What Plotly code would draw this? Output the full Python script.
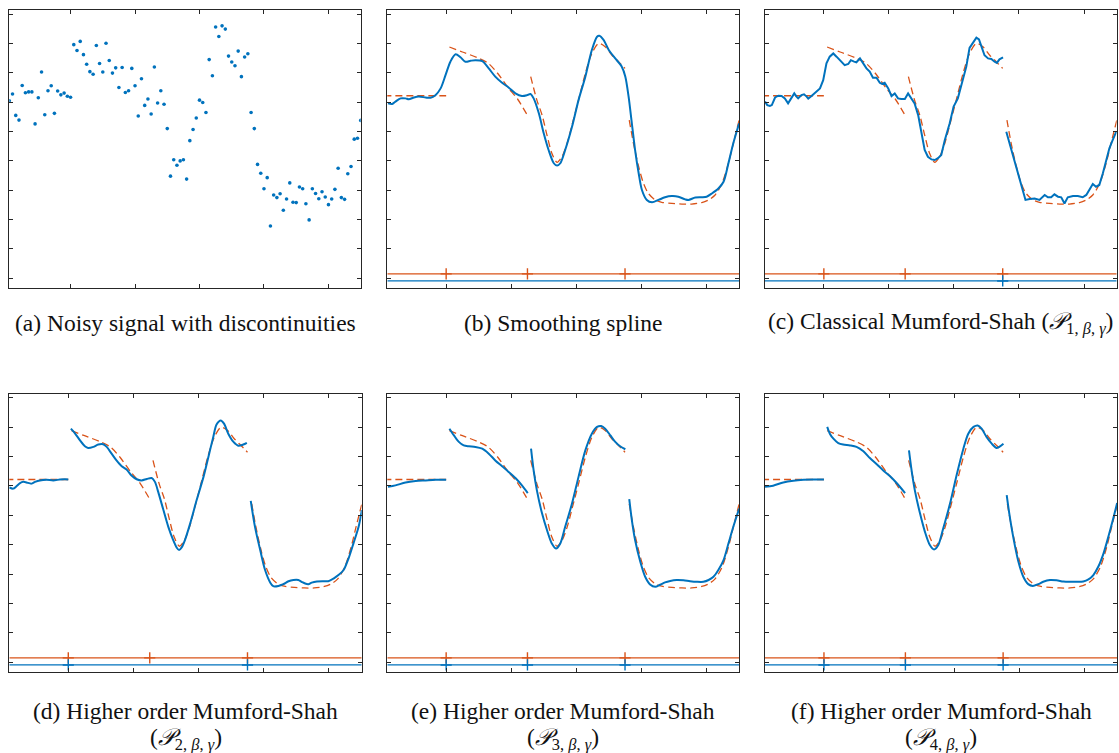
import plotly.graph_objects as go

W, H = 1119, 753
BLUE = "#0072BD"
ORANGE = "#D95319"
AXIS = "#262626"

# ---- noisy observations (sample index 1..110) ----
noisy_x = list(range(1, 111))
noisy_y = [6.05, 6.28, 5.55, 5.39, 6.57, 6.32, 6.35, 6.35, 5.26, 6.15,
           7.03, 5.57, 6.39, 6.56, 5.62, 6.38, 6.25, 6.31, 6.20, 6.17,
           7.96, 7.76, 8.07, 7.62, 7.29, 7.04, 6.95, 7.93, 7.32, 7.03,
           8.01, 7.42, 6.99, 7.17, 6.50, 7.18, 6.33, 6.39, 7.15, 6.56,
           5.53, 6.80, 5.89, 6.11, 5.60, 7.20, 5.97, 6.39, 5.93, 5.10,
           3.48, 4.04, 3.85, 4.00, 4.04, 3.38, 4.69, 5.07, 5.46, 6.07,
           5.99, 5.65, 7.45, 6.90, 8.56, 8.24, 8.60, 8.49, 7.57, 7.37,
           7.24, 7.74, 6.87, 7.54, 7.65, 5.65, 5.10, 3.88, 3.58, 3.05,
           3.43, 1.78, 2.84, 2.75, 2.88, 2.32, 2.70, 3.25, 2.59, 2.58,
           3.11, 3.05, 2.54, 1.99, 3.05, 2.89, 2.71, 2.95, 2.77, 2.51,
           2.70, 3.03, 3.75, 2.75, 2.69, 3.56, 3.81, 4.74, 4.77, 5.38]

# ---- ground-truth piecewise signal ----
truth_x = [[1, 20],
           [21, 25, 30, 33, 36, 39, 42, 45],
           [46, 47.9, 49.5, 51, 52.5, 54.1, 55.6, 57.2, 58.7, 60.7, 62.8, 64.8,
            66.9, 68.9, 71, 73, 75],
           [76.3, 77.6, 79.2, 80.7, 82.2, 84.3, 86.3, 89.4, 92.5, 95.5, 98.6,
            100.7, 102.7, 104.8, 106.8, 108.3, 110.1]]
truth_y = [[6.22, 6.22],
           [7.88, 7.71, 7.50, 7.32, 6.96, 6.50, 6.10, 5.55],
           [6.87, 6.07, 5.56, 4.88, 4.26, 3.95, 4.14, 4.60, 5.22, 6.07, 6.98, 7.66,
            8.00, 7.89, 7.60, 7.38, 7.15],
           [5.39, 4.60, 3.80, 3.23, 2.89, 2.67, 2.59, 2.55, 2.53, 2.53, 2.58,
            2.67, 2.84, 3.23, 3.92, 4.60, 5.39]]
true_jumps = [20, 45, 75]

# ---- (b) smoothing spline ----
spline_x = [[2.1, 3.4, 4.4, 6.0, 7.5, 8.5, 10.1, 11.6, 13.7, 15.2, 16.7, 18.3, 19.8,
             21.3, 22.9, 24.4, 25.9, 27.5, 29.0, 31.1, 33.1, 35.1, 37.2, 39.2, 41.3,
             43.3, 44.9, 45.9, 46.9, 48.5, 50.0, 51.5, 53.1, 54.1, 55.1, 56.6, 58.7,
             60.7, 62.8, 64.8, 66.4, 67.1, 68.4, 70.0, 72.0, 74.0, 75.1, 76.1, 77.1,
             78.1, 79.2, 80.2, 81.7, 83.3, 85.3, 87.3, 89.4, 91.4, 93.5, 94.5, 96.6,
             98.6, 100.1, 101.7, 103.7, 105.3, 106.8, 108.3, 110.1]]
spline_y = [[5.96, 5.94, 6.02, 6.13, 6.13, 6.10, 6.16, 6.19, 6.16, 6.15, 6.24, 6.47, 6.92,
             7.38, 7.63, 7.53, 7.38, 7.41, 7.43, 7.40, 7.15, 6.87, 6.66, 6.50, 6.30,
             6.21, 6.24, 6.28, 6.13, 5.62, 4.94, 4.37, 3.92, 3.84, 3.92, 4.37, 5.16,
             6.07, 6.87, 7.78, 8.23, 8.26, 8.12, 7.78, 7.49, 7.21, 6.87, 6.19, 5.28,
             4.37, 3.58, 3.01, 2.67, 2.59, 2.67, 2.76, 2.80, 2.78, 2.69, 2.67, 2.75,
             2.76, 2.78, 2.89, 3.06, 3.29, 3.92, 4.60, 5.28]]
spline_jumps = []

# ---- (c) classical Mumford-Shah ----
ms1_x = [[1.9, 2.6, 3.4, 4.0, 5.0, 6.0, 7.0, 8.0, 9.0, 10.1, 10.9, 11.6, 12.1, 13.1,
          13.9, 14.7, 15.2, 16.2, 17.2, 18.8, 19.8, 20.8, 21.8, 22.9, 23.9, 25.4,
          26.4, 27.5, 28.3, 29.3, 30.0, 31.1, 32.1, 33.1, 34.1, 35.1, 36.2, 37.2,
          37.9, 38.7, 39.8, 40.8, 41.8, 42.8, 43.8, 44.9, 45.9, 46.9, 47.9, 49.0,
          50.0, 51.0, 52.0, 53.1, 54.1, 55.1, 56.1, 57.2, 58.7, 59.9, 61.2, 62.8,
          63.8, 64.8, 65.9, 66.9, 67.7, 68.4, 69.4, 70.5, 71.5, 72.5, 73.2, 74.0, 75.1],
         [76.1, 77.1, 78.1, 79.2, 80.2, 81.2, 82.0, 83.3, 84.8, 86.3, 87.9, 88.9,
          89.9, 90.9, 92.0, 93.0, 94.0, 95.0, 96.6, 98.1, 99.6, 100.7, 101.7, 102.7,
          103.7, 104.7, 105.8, 106.8, 107.8, 108.8, 109.9]]
ms1_y = [[6.02, 5.90, 5.87, 5.90, 6.16, 6.22, 6.21, 6.13, 5.96, 6.16, 6.30, 6.19, 6.13, 6.24,
          6.27, 6.19, 6.12, 6.21, 6.30, 6.47, 6.75, 7.32, 7.55, 7.66, 7.55, 7.38,
          7.26, 7.30, 7.43, 7.38, 7.36, 7.49, 7.32, 7.15, 7.04, 6.83, 6.83, 6.66,
          6.62, 6.66, 6.47, 6.21, 6.30, 6.13, 6.11, 6.11, 6.30, 6.13, 5.96, 5.56,
          4.94, 4.37, 4.14, 4.05, 4.03, 4.09, 4.20, 4.71, 5.28, 5.85, 6.13, 6.75,
          7.21, 7.85, 8.06, 8.20, 8.14, 7.89, 7.60, 7.49, 7.47, 7.38, 7.34, 7.46, 7.53],
         [4.99, 4.60, 4.14, 3.75, 3.35, 3.01, 2.67, 2.70, 2.72, 2.67, 2.84, 2.76,
          2.76, 2.86, 2.78, 2.76, 2.55, 2.76, 2.80, 2.80, 2.76, 2.84, 3.01, 3.21,
          3.12, 3.18, 3.58, 4.03, 4.43, 4.71, 4.99]]
ms1_jumps = [75]

# ---- (d) higher order, P2 ----
ms2_x = [[1.9, 3.1, 4.1, 5.2, 6.2, 7.2, 8.7, 9.8, 11.3, 13.3, 15.4, 17.4, 19.0, 20.0],
         [20.8, 22.0, 23.6, 25.1, 26.1, 27.7, 29.2, 30.7, 31.8, 33.3, 34.8, 36.4,
          37.9, 39.4, 41.0, 42.5, 44.1, 45.6, 46.6, 47.6, 49.2, 50.7, 52.2, 53.3,
          54.0, 54.8, 55.8, 57.4, 59.4, 61.5, 63.0, 64.5, 65.5, 66.8, 67.8, 69.1,
          70.7, 72.2, 73.7, 74.8],
         [76.0, 77.3, 78.9, 80.4, 82.0, 82.9, 84.5, 86.0, 87.6, 89.1, 90.6, 91.6,
          92.7, 93.7, 94.7, 96.3, 98.3, 99.8, 101.4, 102.9, 104.5, 106.0, 107.5,
          109.1, 110.1]]
ms2_y = [[5.95, 5.91, 5.99, 6.10, 6.14, 6.12, 6.08, 6.14, 6.19, 6.21, 6.19, 6.22, 6.23, 6.22],
         [7.95, 7.80, 7.55, 7.35, 7.29, 7.33, 7.41, 7.42, 7.33, 7.10, 6.87, 6.67,
          6.56, 6.36, 6.23, 6.19, 6.24, 6.27, 6.14, 5.80, 5.18, 4.61, 4.16, 3.90,
          3.82, 3.91, 4.16, 4.72, 5.52, 6.31, 6.99, 7.67, 8.09, 8.23, 8.12, 7.78,
          7.50, 7.37, 7.41, 7.47],
         [5.49, 4.61, 3.82, 3.14, 2.71, 2.59, 2.60, 2.66, 2.76, 2.80, 2.80, 2.74,
          2.68, 2.66, 2.71, 2.75, 2.76, 2.76, 2.85, 2.97, 3.14, 3.53, 4.04,
          4.61, 5.18]]
ms2_jumps = [20, 75]

# ---- (e) higher order, P3 ----
ms3_x = [[2.1, 4.4, 7.5, 10.6, 13.7, 16.7, 20.0],
         [21.0, 22.4, 23.9, 25.4, 27.0, 29.0, 31.1, 33.1, 35.1, 37.2, 39.2, 41.3, 43.3, 45.1],
         [46.1, 46.9, 47.9, 49.5, 51.0, 52.5, 53.8, 55.1, 56.6, 58.7, 60.7, 62.8,
          64.8, 66.4, 67.7, 68.9, 70.5, 72.0, 73.5, 75.1],
         [76.3, 77.1, 78.1, 79.7, 81.2, 82.7, 84.3, 85.8, 87.3, 88.9, 90.9, 93.0,
          95.0, 97.1, 99.1, 100.7, 102.2, 103.7, 105.3, 106.8, 108.3, 110.1]]
ms3_y = [[5.97, 6.02, 6.12, 6.17, 6.19, 6.21, 6.21],
         [7.95, 7.72, 7.50, 7.38, 7.35, 7.33, 7.27, 7.10, 6.87, 6.67, 6.48, 6.27, 6.02, 5.76],
         [7.27, 6.53, 5.85, 5.06, 4.50, 4.04, 3.87, 4.04, 4.61, 5.40, 6.31, 7.21,
          7.78, 8.01, 8.04, 7.95, 7.72, 7.50, 7.35, 7.25],
         [5.55, 4.84, 4.16, 3.42, 2.91, 2.65, 2.57, 2.64, 2.72, 2.77, 2.80, 2.79,
          2.76, 2.74, 2.74, 2.80, 2.91, 3.14, 3.48, 4.04, 4.61, 5.23]]
ms3_jumps = [20, 45, 75]

# ---- (f) higher order, P4 ----
ms4_x = [[1.9, 4.4, 7.5, 10.6, 13.7, 16.7, 20.0],
         [21.0, 21.8, 22.9, 24.4, 25.9, 28.0, 30.0, 32.1, 34.1, 36.2, 38.2, 40.3, 42.3, 44.9],
         [46.1, 46.9, 47.9, 49.5, 51.0, 52.5, 53.8, 55.1, 56.6, 58.7, 60.7, 62.8,
          64.3, 65.9, 67.2, 68.4, 69.9, 71.5, 73.0, 73.8, 75.1],
         [76.1, 76.9, 78.1, 79.7, 81.2, 82.7, 84.1, 85.8, 87.3, 89.4, 91.4, 93.5,
          95.5, 97.6, 99.6, 101.2, 102.7, 104.2, 105.8, 107.3, 108.8, 110.0]]
ms4_y = [[5.97, 6.01, 6.12, 6.18, 6.21, 6.22, 6.22],
         [8.01, 7.78, 7.61, 7.46, 7.41, 7.38, 7.33, 7.18, 6.95, 6.74, 6.53, 6.33, 6.10, 5.76],
         [7.21, 6.53, 5.85, 5.06, 4.44, 3.99, 3.84, 3.99, 4.55, 5.40, 6.36, 7.27,
          7.78, 8.01, 8.06, 7.95, 7.67, 7.44, 7.29, 7.33, 7.44],
         [5.69, 5.06, 4.27, 3.42, 2.91, 2.66, 2.60, 2.66, 2.74, 2.80, 2.79, 2.75,
          2.74, 2.74, 2.75, 2.82, 2.97, 3.25, 3.70, 4.27, 4.89, 5.42]]
ms4_jumps = [20, 45, 75]

# jump-indicator rows drawn below the signal
true_row_y = 0.15
found_row_y = -0.09

captions = [
    "(a) Noisy signal with discontinuities",
    "(b) Smoothing spline",
    "(c) Classical Mumford-Shah (<i>𝒫</i><sub>1, <i>β</i>, <i>γ</i></sub>)",
    "(d) Higher order Mumford-Shah",
    "(e) Higher order Mumford-Shah",
    "(f) Higher order Mumford-Shah",
]
captions2 = [
    "(<i>𝒫</i><sub>2, <i>β</i>, <i>γ</i></sub>)",
    "(<i>𝒫</i><sub>3, <i>β</i>, <i>γ</i></sub>)",
    "(<i>𝒫</i><sub>4, <i>β</i>, <i>γ</i></sub>)",
]

x_ticks = [20, 40, 60, 80, 100]
y_ticks = list(range(10))
y_range = [-0.34, 9.13]

# panel frames in pixels: (left, right, top, bottom)
frames = [
    (9.3, 360.7, 10.3, 288.3),
    (387.3, 739.0, 10.3, 288.3),
    (765.0, 1116.7, 10.3, 288.3),
    (9.3, 361.7, 394.0, 672.3),
    (387.3, 739.0, 394.0, 672.3),
    (765.0, 1117.3, 394.0, 672.3),
]
x_ranges = [[1.0, 110.0]] + [[1.9, 110.05]] * 5


def joined(xs_list, ys_list):
    """Concatenate curve pieces, leaving gaps between them."""
    xs, ys = [], []
    for xs_i, ys_i in zip(xs_list, ys_list):
        if xs:
            xs.append(None)
            ys.append(None)
        xs += list(xs_i)
        ys += list(ys_i)
    return xs, ys


fig = go.Figure()


def add(trace, k):
    suffix = "" if k == 1 else str(k)
    trace.update(xaxis="x" + suffix, yaxis="y" + suffix, showlegend=False,
                 hoverinfo="skip")
    fig.add_trace(trace)


# (a) scattered samples
add(go.Scatter(x=noisy_x, y=noisy_y, mode="markers",
               marker=dict(color=BLUE, size=3.6, symbol="circle",
                           line=dict(width=0))), 1)

fits = [
    (spline_x, spline_y, spline_jumps, "spline"),
    (ms1_x, ms1_y, ms1_jumps, "linear"),
    (ms2_x, ms2_y, ms2_jumps, "spline"),
    (ms3_x, ms3_y, ms3_jumps, "spline"),
    (ms4_x, ms4_y, ms4_jumps, "spline"),
]

tx, ty = joined(truth_x, truth_y)

for k, (fx, fy, jumps, shape) in enumerate(fits, start=2):
    xr = x_ranges[k - 1]
    # ground truth, dashed
    add(go.Scatter(x=tx, y=ty, mode="lines", connectgaps=False,
                   line=dict(color=ORANGE, width=1.3, dash="7px,4px",
                             shape="spline", smoothing=0.8)), k)
    # reconstruction
    bx, by = joined(fx, fy)
    line = dict(color=BLUE, width=2)
    if shape == "spline":
        line.update(shape="spline", smoothing=0.8)
    add(go.Scatter(x=bx, y=by, mode="lines", connectgaps=False, line=line), k)
    # jump indicator rows
    add(go.Scatter(x=xr, y=[true_row_y] * 2, mode="lines",
                   line=dict(color=ORANGE, width=1.2)), k)
    add(go.Scatter(x=true_jumps, y=[true_row_y] * len(true_jumps), mode="markers",
                   marker=dict(symbol="cross-thin", size=8,
                               line=dict(color=ORANGE, width=1.4))), k)
    add(go.Scatter(x=xr, y=[found_row_y] * 2, mode="lines",
                   line=dict(color=BLUE, width=1.2)), k)
    if jumps:
        add(go.Scatter(x=jumps, y=[found_row_y] * len(jumps), mode="markers",
                       marker=dict(symbol="cross-thin", size=8,
                                   line=dict(color=BLUE, width=1.4))), k)

layout = dict(
    width=W, height=H,
    margin=dict(l=0, r=0, t=0, b=0),
    paper_bgcolor="white", plot_bgcolor="white",
    showlegend=False,
)

axis_common = dict(showline=True, linecolor=AXIS, linewidth=1, mirror="ticks",
                   ticks="inside", ticklen=4, tickwidth=1, tickcolor=AXIS,
                   showticklabels=False, showgrid=False, zeroline=False,
                   fixedrange=True)

for k, (l, r, t, b) in enumerate(frames, start=1):
    suffix = "" if k == 1 else str(k)
    layout["xaxis" + suffix] = dict(
        axis_common, domain=[l / W, r / W], range=x_ranges[k - 1],
        tickvals=x_ticks, anchor="y" + suffix)
    layout["yaxis" + suffix] = dict(
        axis_common, domain=[1 - b / H, 1 - t / H], range=y_range,
        tickvals=y_ticks, anchor="x" + suffix)

fig.update_layout(**layout)

font = dict(family="Liberation Serif, DejaVu Serif, serif", size=23.5, color="#111111")
centers = [(l + r) / 2 for (l, r, t, b) in frames]
for i, text in enumerate(captions):
    y_pix = 323 if i < 3 else 710.5
    fig.add_annotation(text=text, x=centers[i] / W, y=1 - y_pix / H,
                       xref="paper", yref="paper", showarrow=False,
                       xanchor="center", yanchor="middle", font=font)
for i, text in enumerate(captions2):
    fig.add_annotation(text=text, x=centers[i + 3] / W, y=1 - 739 / H,
                       xref="paper", yref="paper", showarrow=False,
                       xanchor="center", yanchor="middle", font=font)

fig.write_html("out.html")
